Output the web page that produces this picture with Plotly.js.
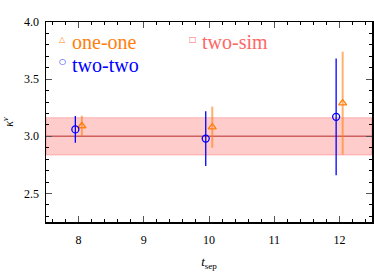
<!DOCTYPE html>
<html><head><meta charset="utf-8">
<script src="https://cdn.plot.ly/plotly-3.0.1.min.js"></script>
<style>html,body{margin:0;padding:0;background:#fff}</style>
</head><body><div id="plot" style="width:374px;height:272px"></div>
<script>
const tsep = [8, 10, 12];
const shift = 0.05;
const oneVal = [3.09, 3.08, 3.29];
const oneErr = [0.09, 0.18, 0.45];
const twoVal = [3.06, 2.98, 3.17];
const twoErr = [0.117, 0.24, 0.51];
const simVal = 3.0;
const simErr = 0.162;
const xSpan = [7.5, 12.5];
const yRange = [2.25, 4.0];

const cOne = '#ff7f0e', cTwo = '#0000ff', cSim = '#ff6666';
const serif = 'Liberation Serif, DejaVu Serif, serif';

const traces = [
  {x:[xSpan[0], xSpan[1], xSpan[1], xSpan[0], xSpan[0]],
   y:[simVal+simErr, simVal+simErr, simVal-simErr, simVal-simErr, simVal+simErr],
   mode:'lines', fill:'toself', fillcolor:'rgba(255,0,0,0.2)',
   line:{color:'rgba(255,80,80,0.35)', width:1.2}, showlegend:false, hoverinfo:'skip'},
  {x:xSpan, y:[simVal, simVal], mode:'lines',
   line:{color:'rgba(190,60,60,0.75)', width:1.6}, showlegend:false},
  {x:tsep.map(t=>t+shift), y:oneVal, mode:'markers',
   marker:{symbol:'triangle-up-open', size:7, color:cOne, line:{width:1.4, color:cOne}},
   error_y:{type:'data', array:oneErr, visible:true, color:'rgba(255,127,14,0.6)', thickness:2, width:0},
   showlegend:false},
  {x:tsep.map(t=>t-shift), y:twoVal, mode:'markers',
   marker:{symbol:'circle-open', size:7, color:cTwo, line:{width:1.3, color:cTwo}},
   error_y:{type:'data', array:twoErr, visible:true, color:cTwo, thickness:1.3, width:0},
   showlegend:false}
];

const axisCommon = {
  showgrid:false, zeroline:false, showline:true, linecolor:'#000', linewidth:1.5,
  mirror:'ticks', ticks:'inside', ticklen:6, tickwidth:1, tickcolor:'#555',
  tickfont:{family:serif, size:12, color:'#000'}
};

const layout = {
  width:374, height:272,
  margin:{l:46, r:2, t:22, b:50},
  paper_bgcolor:'#fff', plot_bgcolor:'#fff',
  showlegend:false,
  xaxis:Object.assign({}, axisCommon, {range:xSpan, dtick:1, tick0:8,
    minor:{dtick:0.2, ticks:'inside', ticklen:3, tickcolor:'#000', showgrid:false},
    ticklabelstandoff:6,
    title:{text:'<i>t</i><sub>sep</sub>', font:{family:serif, size:13, color:'#000'}, standoff:11}}),
  yaxis:Object.assign({}, axisCommon, {range:yRange, dtick:0.5, tick0:2.5,
    tickformat:'.1f',
    minor:{dtick:0.1, ticks:'inside', ticklen:3, tickcolor:'#000', showgrid:false},
    ticklabelstandoff:3,
    title:{text:'<i>κ</i><sup><i>v</i></sup>', font:{family:serif, size:12, color:'#000'}, standoff:8}}),
  annotations:[
    {xref:'paper', yref:'paper', x:0.052, y:0.913, text:'△', showarrow:false, font:{family:'DejaVu Sans', size:8, color:cOne}, xanchor:'center', yanchor:'middle'},
    {xref:'paper', yref:'paper', x:0.074, y:0.90, text:'one-one', showarrow:false, font:{family:serif, size:20, color:cOne}, xanchor:'left', yanchor:'middle'},
    {xref:'paper', yref:'paper', x:0.052, y:0.80, text:'○', showarrow:false, font:{family:'DejaVu Sans', size:8, color:cTwo}, xanchor:'center', yanchor:'middle'},
    {xref:'paper', yref:'paper', x:0.074, y:0.785, text:'two-two', showarrow:false, font:{family:serif, size:20, color:cTwo}, xanchor:'left', yanchor:'middle'},
    {xref:'paper', yref:'paper', x:0.451, y:0.91, text:'□', showarrow:false, font:{family:'DejaVu Sans', size:8, color:cSim}, xanchor:'center', yanchor:'middle'},
    {xref:'paper', yref:'paper', x:0.473, y:0.90, text:'two-sim', showarrow:false, font:{family:serif, size:20, color:cSim}, xanchor:'left', yanchor:'middle'}
  ]
};

Plotly.newPlot('plot', traces, layout, {displayModeBar:false, staticPlot:true});
</script></body></html>
